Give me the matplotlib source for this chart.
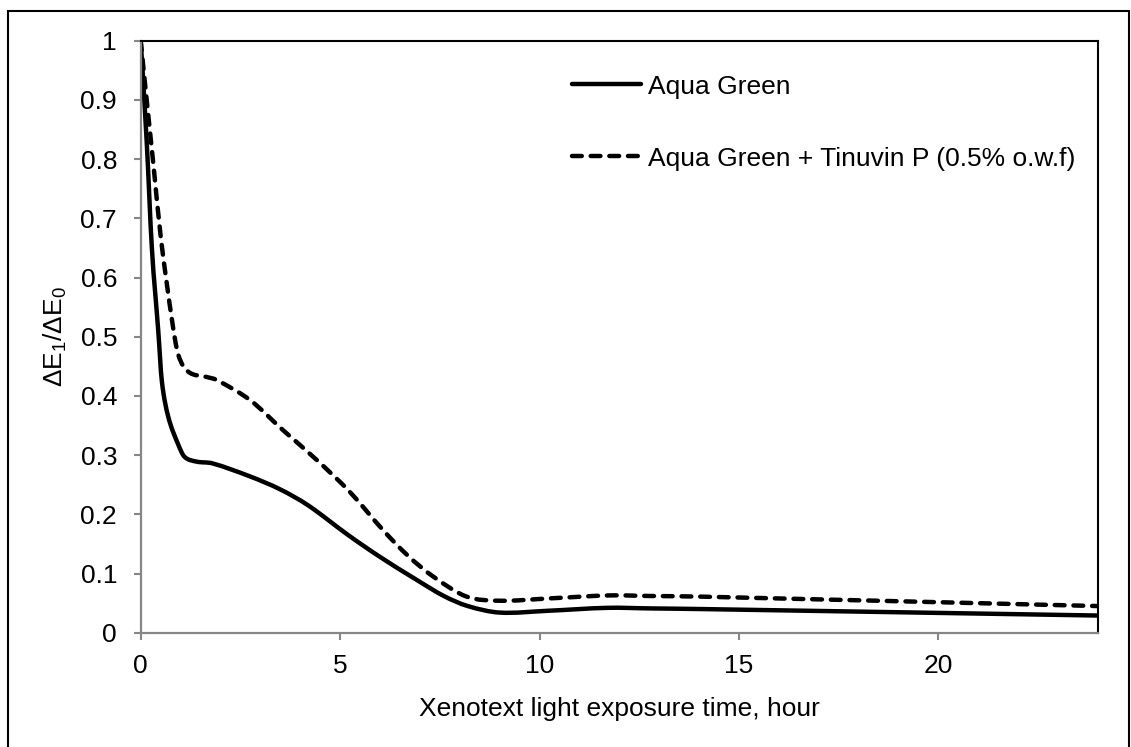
import matplotlib
matplotlib.use("Agg")
from matplotlib import pyplot as plt
from matplotlib.patches import Rectangle, PathPatch
from matplotlib.path import Path
from matplotlib.lines import Line2D

# values
t_green = [0, 0.15, 0.28, 0.44, 0.53, 0.69, 0.94, 1.1, 1.4, 1.8, 2.74, 3.5, 4.2,
           5.2, 6.0, 6.9, 7.6, 8.2, 9.0, 10.2, 11.7, 12.8, 14.0, 24.0]
v_green = [1.0, 0.83, 0.65, 0.51, 0.425, 0.365, 0.318, 0.297, 0.289, 0.286, 0.264, 0.242, 0.215,
           0.165, 0.128, 0.09, 0.062, 0.045, 0.034, 0.037, 0.042, 0.041, 0.040, 0.029]

t_tinuvin = [0, 0.15, 0.32, 0.5, 0.78, 0.94, 1.19, 1.65, 1.9, 2.74, 3.57, 4.41,
             5.24, 6.08, 6.7, 7.33, 8.17, 9.0, 10.26, 11.76, 12.77, 14.0, 24.0]
v_tinuvin = [1.0, 0.9, 0.79, 0.67, 0.53, 0.47, 0.441, 0.432, 0.427, 0.393, 0.342, 0.292,
             0.238, 0.173, 0.13, 0.095, 0.061, 0.054, 0.058, 0.063, 0.062, 0.061, 0.045]

labels = ["Aqua Green", "Aqua Green + Tinuvin P (0.5% o.w.f)"]
x_ticks = [0, 5, 10, 15, 20]
y_ticks = [0, 0.1, 0.2, 0.3, 0.4, 0.5, 0.6, 0.7, 0.8, 0.9, 1]


def smooth_path(xs, ys):
    # Excel-like smoothed line: cubic bezier through each point
    n = len(xs)
    m = []
    for i in range(n):
        a = max(i - 1, 0)
        b = min(i + 1, n - 1)
        m.append((ys[b] - ys[a]) / (xs[b] - xs[a]))
    verts = [(xs[0], ys[0])]
    codes = [Path.MOVETO]
    for i in range(n - 1):
        h = xs[i + 1] - xs[i]
        verts += [(xs[i] + h / 3, ys[i] + m[i] * h / 3),
                  (xs[i + 1] - h / 3, ys[i + 1] - m[i + 1] * h / 3),
                  (xs[i + 1], ys[i + 1])]
        codes += [Path.CURVE4] * 3
    return Path(verts, codes)


plt.rcParams['font.family'] = ['Liberation Sans', 'DejaVu Sans']
plt.rcParams['mathtext.fontset'] = 'custom'
plt.rcParams['mathtext.rm'] = 'Liberation Sans'
plt.rcParams['mathtext.it'] = 'Liberation Sans'
fs = 19

fig = plt.figure(figsize=(11.31, 7.47), dpi=100)
ax = fig.add_axes([140.7 / 1131, 114.3 / 747, 957.3 / 1131, 592 / 747])

dash = (0, (2.2, 2.0))
p1 = PathPatch(smooth_path(t_green, v_green), fill=False, edgecolor='black', lw=3.2,
               capstyle='round', joinstyle='round')
p2 = PathPatch(smooth_path(t_tinuvin, v_tinuvin), fill=False, edgecolor='black', lw=3.2,
               linestyle=dash, capstyle='round', joinstyle='round')
ax.add_patch(p1)
ax.add_patch(p2)

ax.set_xlim(0, 24)
ax.set_ylim(0, 1)
ax.set_xticks(x_ticks)
ax.set_yticks(y_ticks)
ax.set_yticklabels(['%g' % v for v in y_ticks])
ax.tick_params(labelsize=fs, colors='#868686', labelcolor='black', length=5, width=1.5)
ax.tick_params(axis='y', pad=12)
ax.tick_params(axis='x', pad=10)

for s in ['left', 'bottom']:
    ax.spines[s].set_color('#868686')
    ax.spines[s].set_linewidth(1.6)
for s in ['top', 'right']:
    ax.spines[s].set_color('black')
    ax.spines[s].set_linewidth(1.5)

ax.set_xlabel('Xenotext light exposure time, hour', fontsize=fs, labelpad=14)
ax.set_ylabel(r'ΔE$_1$/ΔE$_0$', fontsize=fs, labelpad=8)

handles = [Line2D([], [], color='black', lw=3.2, solid_capstyle='round'),
           Line2D([], [], color='black', lw=3.2, linestyle=dash, dash_capstyle='round')]
ax.legend(handles, labels, loc='upper left', bbox_to_anchor=(0.4505, 0.9426), frameon=False,
          fontsize=fs, handlelength=2.6, handletextpad=0.3, labelspacing=1.82,
          borderpad=0, borderaxespad=0)

fig.add_artist(Rectangle((8 / 1131, -0.05), 1121 / 1131, 1.05 - 11 / 747,
                         transform=fig.transFigure, fill=False, edgecolor='black', lw=1.5))

fig.savefig('out.png', dpi=100)
